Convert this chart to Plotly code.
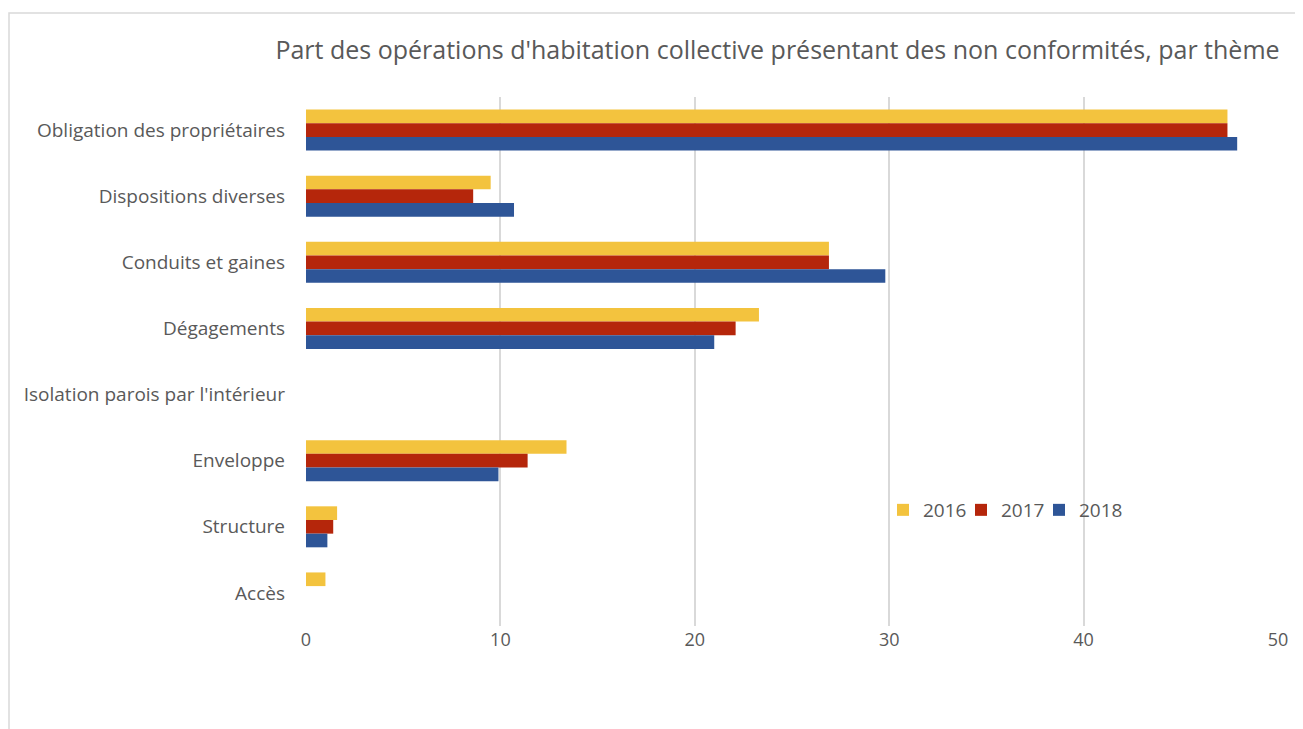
import plotly.graph_objects as go

categories = [
    "Obligation des propriétaires",
    "Dispositions diverses",
    "Conduits et gaines",
    "Dégagements",
    "Isolation parois par l'intérieur",
    "Enveloppe",
    "Structure",
    "Accès",
]
years = ["2016", "2017", "2018"]
values_2016 = [47.4, 9.5, 26.9, 23.3, 0, 13.4, 1.6, 1.0]
values_2017 = [47.4, 8.6, 26.9, 22.1, 0, 11.4, 1.4, 0]
values_2018 = [47.9, 10.7, 29.8, 21.0, 0, 9.9, 1.1, 0]
colors = ["#F3C33E", "#B5260B", "#2E5597"]
x_ticks = [0, 10, 20, 30, 40, 50]
title = "Part des opérations d'habitation collective présentant des non conformités, par thème"

FONT = "Open Sans"
GRAY = "#595959"

W, H = 1295, 721
L, R, T, B = 298, 25, 89, 103
PW, PH = W - L - R, H - T - B

legend_ids = ["legend", "legend2", "legend3"]
legend_x_px = [875, 953, 1031]

fig = go.Figure()
for name, vals, col, lid in zip(years, [values_2016, values_2017, values_2018], colors, legend_ids):
    fig.add_trace(go.Bar(
        y=categories, x=vals, name=name, orientation="h", legend=lid,
        showlegend=True,
        marker=dict(color=col, line=dict(width=0)),
    ))

legend_layout = {}
for lid, xp in zip(legend_ids, legend_x_px):
    legend_layout[lid] = dict(orientation="h", x=(xp - L) / PW, y=(T + PH - 502) / PH,
                              xanchor="left", yanchor="middle", visible=True,
                              font=dict(size=19, color=GRAY), bgcolor="rgba(0,0,0,0)")

fig.update_layout(
    width=W, height=H, showlegend=True,
    barmode="group", bargap=0.38, bargroupgap=0,
    plot_bgcolor="white", paper_bgcolor="white",
    margin=dict(l=L, r=R, t=T, b=B),
    title=dict(text=title, x=769.5 / W, xanchor="center", y=1 - 42 / H, yanchor="middle",
               font=dict(family=FONT, size=25, color=GRAY)),
    font=dict(family=FONT, color=GRAY),
    xaxis=dict(range=[0, 50], tickvals=x_ticks, showgrid=True, gridcolor="#D9D9D9",
               gridwidth=1.5, zeroline=False, showline=False,
               tickfont=dict(size=18, color=GRAY), ticks="", ticklabelstandoff=1),
    yaxis=dict(autorange="reversed", showgrid=False, showline=False, zeroline=False,
               tickfont=dict(size=19, color=GRAY), ticks="", ticklabelstandoff=20),
    shapes=[dict(type="rect", xref="paper", yref="paper",
                 x0=(1 - L) / PW, x1=(W + 20 - L) / PW,
                 y0=-0.5, y1=(T + PH - 5) / PH,
                 line=dict(color="#D9D9D9", width=1.5), fillcolor="rgba(0,0,0,0)",
                 layer="below")],
    **legend_layout,
)
fig.write_html("out.html")
